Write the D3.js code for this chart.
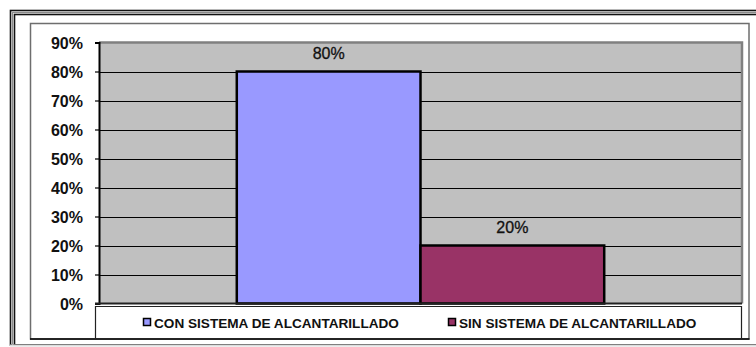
<!DOCTYPE html>
<html>
<head>
<meta charset="utf-8">
<script src="https://cdn.jsdelivr.net/npm/d3@7"></script>
<style>
  html, body { margin: 0; padding: 0; background: #fff; }
  svg { display: block; font-family: "Liberation Sans", Arial, sans-serif; }
</style>
</head>
<body>
<svg id="chart" width="756" height="347"></svg>
<script>
// Chart data
const categories = ["Alcantarillado"];
const seriesNames = ["CON SISTEMA DE ALCANTARILLADO", "SIN SISTEMA DE ALCANTARILLADO"];
const seriesValues = [80, 20];
const seriesColors = ["#9999FF", "#993366"];
const yTicks = [0, 10, 20, 30, 40, 50, 60, 70, 80, 90];

const svg = d3.select("#chart");

// Decorative page frame (triple rule) around the chart object
[[10.5, "#111", 1.6], [12.5, "#8a8a8a", 1.2], [14.5, "#111", 1.6]].forEach(([o, c, w]) => {
  svg.append("rect")
    .attr("x", o).attr("y", o)
    .attr("width", 800).attr("height", 345 - o)
    .attr("fill", "none").attr("stroke", c).attr("stroke-width", w);
});
svg.append("line").attr("x1", 10).attr("x2", 756).attr("y1", 345.5).attr("y2", 345.5)
  .attr("stroke", "#dcdcdc").attr("stroke-width", 2);

// Chart area border
svg.append("rect")
  .attr("x", 30.5).attr("y", 23.5).attr("width", 718.5).attr("height", 315.5)
  .attr("fill", "#fff").attr("stroke", "#6e6e6e").attr("stroke-width", 1.5);
svg.append("line").attr("x1", 30).attr("x2", 749.5).attr("y1", 339).attr("y2", 339)
  .attr("stroke", "#000").attr("stroke-width", 1.5);

// Plot area
const plot = { left: 99, right: 742, top: 42.5, bottom: 303.5 };

const x0 = d3.scaleBand()
  .domain(categories)
  .range([plot.left, plot.right])
  .paddingInner(3 / 11)
  .paddingOuter(3 / 11);

const x1 = d3.scaleBand()
  .domain(seriesNames)
  .range([0, x0.bandwidth()]);

const y = d3.scaleLinear()
  .domain([0, 90])
  .range([plot.bottom, plot.top]);

svg.append("rect")
  .attr("x", plot.left).attr("y", plot.top)
  .attr("width", plot.right - plot.left).attr("height", plot.bottom - plot.top)
  .attr("fill", "#C0C0C0");

// Horizontal gridlines
svg.append("g")
  .selectAll("line")
  .data(yTicks.filter(t => t > 0 && t < 90))
  .join("line")
  .attr("x1", plot.left).attr("x2", plot.right)
  .attr("y1", d => Math.round(y(d)) + 0.5).attr("y2", d => Math.round(y(d)) + 0.5)
  .attr("stroke", "#000").attr("stroke-width", 1);

// Plot area border (top and right in gray)
svg.append("path")
  .attr("d", `M${plot.left},${plot.top} H${plot.right} V${plot.bottom}`)
  .attr("fill", "none").attr("stroke", "#808080").attr("stroke-width", 2.5);

// Bars
const g = svg.append("g");
categories.forEach(cat => {
  seriesNames.forEach((s, i) => {
    const v = seriesValues[i];
    const bx = x0(cat) + x1(s);
    g.append("rect")
      .attr("x", bx).attr("y", y(v))
      .attr("width", x1.bandwidth()).attr("height", y(0) - y(v))
      .attr("fill", seriesColors[i])
      .attr("stroke", "#000").attr("stroke-width", 2.5);
    g.append("text")
      .attr("x", bx + x1.bandwidth() / 2)
      .attr("y", y(v) - 13)
      .attr("text-anchor", "middle")
      .attr("font-size", 16)
      .attr("fill", "#111")
      .attr("stroke", "#111").attr("stroke-width", 0.3)
      .text(v + "%");
  });
});

// Y axis
const yAxis = d3.axisLeft(y)
  .tickValues(yTicks)
  .tickSize(4)
  .tickPadding(12)
  .tickFormat(d => d + "%");

const ya = svg.append("g")
  .attr("transform", `translate(${plot.left},0)`)
  .call(yAxis);
ya.select(".domain").attr("stroke", "#000").attr("stroke-width", 2);
ya.selectAll(".tick line").attr("stroke", "#000").attr("stroke-width", 1.2);
ya.selectAll(".tick text")
  .attr("font-family", "'Liberation Sans', Arial, sans-serif")
  .attr("font-size", 16).attr("font-weight", "bold").attr("fill", "#111")
  .attr("dy", "0.36em");

// Baseline
svg.append("line")
  .attr("x1", plot.left - 4).attr("x2", plot.right)
  .attr("y1", plot.bottom).attr("y2", plot.bottom)
  .attr("stroke", "#222").attr("stroke-width", 2);

// Legend box
svg.append("path")
  .attr("d", `M95.5,339 V306.5 H741.5 V339`)
  .attr("fill", "none").attr("stroke", "#222").attr("stroke-width", 1.2);

const legendX = [143, 448];
const legend = svg.append("g");
seriesNames.forEach((s, i) => {
  legend.append("rect")
    .attr("x", legendX[i] + 0.5).attr("y", 318.5)
    .attr("width", 7).attr("height", 7)
    .attr("fill", seriesColors[i]).attr("stroke", "#000").attr("stroke-width", 1.5);
  legend.append("text")
    .attr("x", legendX[i] + 11).attr("y", 327.5)
    .attr("font-size", 13.6).attr("font-weight", "bold").attr("fill", "#111")
    .text(s);
});
</script>
</body>
</html>
